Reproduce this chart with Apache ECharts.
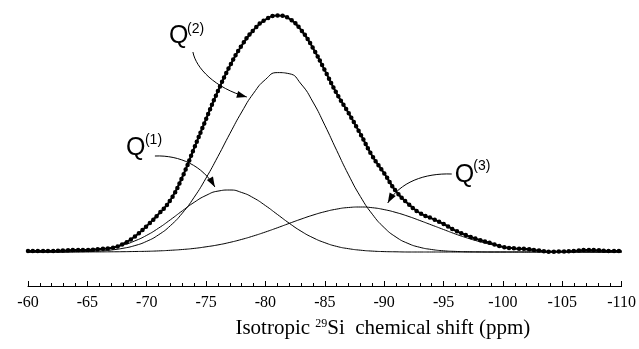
<!DOCTYPE html>
<html>
<head>
<meta charset="utf-8">
<script src="https://cdn.jsdelivr.net/npm/echarts@6/dist/echarts.min.js"></script>
<style>
  html, body { margin: 0; padding: 0; background: #fff; }
  #chart { width: 639px; height: 349px; }
</style>
</head>
<body>
<div id="chart"></div>
<script>
// chemical shift (ppm), one point per ppm
const shifts = [-60, -61, -62, -63, -64, -65, -66, -67, -68, -69, -70, -71, -72, -73, -74, -75, -76, -77, -78, -79,
  -80, -81, -82, -83, -84, -85, -86, -87, -88, -89, -90, -91, -92, -93, -94, -95, -96, -97, -98, -99,
  -100, -101, -102, -103, -104, -105, -106, -107, -108, -109, -110]

// measured spectrum (thick dotted trace), arbitrary intensity
const measured = [1, 1, 1, 1.5, 2, 2, 3, 4, 8, 15.5, 26, 38, 52, 75, 104, 133, 161, 186, 206.5, 222,
  232.4, 236.5, 233.4, 222, 204, 181.6, 158.6, 139, 118, 96, 78.7, 60.7, 48.4, 39, 33.6, 28, 21.4, 16.3, 12.2, 8.7,
  5.1, 3.6, 3, 1.5, 0.3, 0.5, 1, 2, 1.7, 1, 1]

// fitted components
const q1 = [0, 0, 0, 0.1, 0.6, 1.2, 2.3, 4.1, 6.9, 11.1, 16.7, 23.9, 32.3, 41.2, 49.7, 56.6, 60.9, 62, 59.5, 54.1,
  46.4, 37.6, 28.8, 20.8, 14.3, 9.3, 5.6, 3.3, 1.8, 0.9, 0.4, 0.2, 0, 0, 0, 0, 0, 0, 0, 0,
  0, 0, 0, 0, 0, 0, 0, 0, 0, 0, 0]
const q2 = [0, 0, 0.05, 0.1, 0.25, 0.5, 1, 2, 3.7, 6.4, 10.7, 17.2, 26.4, 38.9, 54.8, 74, 95.6, 118.3, 140, 158.8,
  172.5, 179.4, 178.3, 168, 150, 126.8, 101.6, 77.1, 55.4, 37.8, 24.4, 14.9, 8.6, 4.7, 2.5, 1.2, 0.6, 0.25, 0.1, 0,
  0, 0, 0, 0, 0, 0, 0, 0, 0, 0, 0]
const q3 = [0, 0, 0, 0, 0, 0.05, 0.1, 0.2, 0.3, 0.5, 0.7, 1.1, 1.7, 2.5, 3.6, 5.2, 7.1, 9.6, 12.6, 16.1,
  20, 24.2, 28.6, 32.9, 36.9, 40.3, 42.9, 44.5, 45, 44.3, 42.4, 39.5, 35.8, 31.5, 27, 22.5, 18, 14, 10.5, 7.5,
  5, 3.3, 2, 1.2, 0.7, 0.4, 0.2, 0.1, 0, 0, 0]

// annotation anchors in data units [ppm, intensity]
const annoLabels = [
  { text: 'Q', sup: '(1)', at: [-68.25, 104], supAt: [-69.85, 112] },
  { text: 'Q', sup: '(2)', at: [-71.87, 216], supAt: [-73.4, 223] },
  { text: 'Q', sup: '(3)', at: [-95.95, 77], supAt: [-97.5, 86] },
]
// cubic arrows: start, control 1, control 2, tip
const annoArrows = [
  [[-70.69, 96], [-72.79, 97], [-74.73, 86], [-75.74, 65]],
  [[-73.89, 200], [-74.14, 184], [-75.74, 164], [-78.43, 155]],
  [[-95.69, 78], [-93.42, 79], [-91.31, 70], [-90.3, 49]],
]

const pairs = (ys) => shifts.map((x, i) => [x, ys[i]])

const chart = echarts.init(document.getElementById('chart'))

const thin = (name, ys) => ({
  name,
  type: 'line',
  data: pairs(ys),
  smooth: 0.55,
  symbol: 'none',
  silent: true,
  lineStyle: { color: '#000', width: 1 },
  z: 2,
})

const option = {
  animation: false,
  backgroundColor: '#fff',
  grid: { left: 28, right: 17, top: 10, bottom: 63 },
  xAxis: {
    type: 'value',
    inverse: true,
    min: -110,
    max: -60,
    interval: 5,
    axisLine: { onZero: false, lineStyle: { color: '#000', width: 1 } },
    axisTick: { inside: true, length: 5, lineStyle: { color: '#000' } },
    minorTick: { show: true, splitNumber: 5, length: 3, lineStyle: { color: '#000' } },
    splitLine: { show: false },
    axisLabel: {
      margin: 9,
      color: '#000',
      fontFamily: 'Liberation Serif',
      fontSize: 16,
    },
    name: 'Isotropic {sup|29}Si  chemical shift (ppm)',
    nameLocation: 'middle',
    nameGap: 32,
    nameTextStyle: {
      color: '#000',
      fontFamily: 'Liberation Serif',
      fontSize: 21,
      padding: [0, 0, 0, 116],
      rich: {
        sup: { fontFamily: 'Liberation Serif', fontSize: 12, color: '#000', verticalAlign: 'top' },
      },
    },
  },
  yAxis: {
    type: 'value',
    min: -34,
    max: 242,
    show: false,
  },
  series: [
    thin('Q(1)', q1),
    thin('Q(2)', q2),
    thin('Q(3)', q3),
    {
      name: 'measured',
      type: 'line',
      data: pairs(measured),
      smooth: 0.5,
      symbol: 'none',
      silent: true,
      lineStyle: { color: '#000', width: 2 },
      z: 3,
    },
    {
      name: 'measured dots',
      type: 'line',
      data: pairs(measured),
      smooth: 0.5,
      symbol: 'none',
      silent: true,
      lineStyle: { color: '#000', width: 4.5, type: [0, 5], cap: 'round' },
      z: 4,
    },
  ],
}

chart.setOption(option)

function arrowHead(tip, from, len, half) {
  const dx = tip[0] - from[0]
  const dy = tip[1] - from[1]
  const d = Math.hypot(dx, dy) || 1
  const ux = dx / d
  const uy = dy / d
  const bx = tip[0] - ux * len
  const by = tip[1] - uy * len
  return [tip, [bx - uy * half, by + ux * half], [bx + uy * half, by - ux * half]]
}

function drawAnnotations() {
  const toPx = (p) => chart.convertToPixel({ gridIndex: 0 }, p)
  const graphic = []
  annoLabels.forEach((l) => {
    const p = toPx(l.at)
    const s = toPx(l.supAt)
    graphic.push({
      type: 'text', x: p[0], y: p[1], silent: true,
      style: { text: l.text, fill: '#000', font: '25px "Liberation Sans", Arial, sans-serif', align: 'left', verticalAlign: 'middle' },
    })
    graphic.push({
      type: 'text', x: s[0], y: s[1], silent: true,
      style: { text: l.sup, fill: '#000', font: '14px "Liberation Sans", Arial, sans-serif', align: 'left', verticalAlign: 'middle' },
    })
  })
  annoArrows.forEach((a) => {
    const [p0, c1, c2, p1] = a.map(toPx)
    graphic.push({
      type: 'bezierCurve', silent: true,
      shape: { x1: p0[0], y1: p0[1], cpx1: c1[0], cpy1: c1[1], cpx2: c2[0], cpy2: c2[1], x2: p1[0], y2: p1[1] },
      style: { stroke: '#000', lineWidth: 1, fill: null },
    })
    graphic.push({
      type: 'polygon', silent: true,
      shape: { points: arrowHead(p1, c2, 10, 3.5) },
      style: { fill: '#000' },
    })
  })
  chart.setOption({ graphic })
}

drawAnnotations()
</script>
</body>
</html>
